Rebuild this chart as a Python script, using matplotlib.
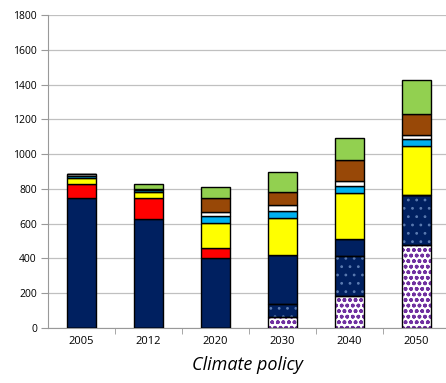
import matplotlib.pyplot as plt
import numpy as np

plt.rcParams['font.family'] = ['Open Sans', 'DejaVu Sans']

years = ['2005', '2012', '2020', '2030', '2040', '2050']

# stacked segments, bottom to top
purple_dots = [0, 0, 0, 61, 184, 477]
navy_dots = [0, 0, 0, 75, 232, 288]
navy = [746, 625, 401, 284, 94, 0]
red = [80, 121, 57, 0, 0, 0]
yellow = [36, 34, 144, 214, 265, 282]
light_blue = [10, 13, 42, 39, 42, 38]
white = [12, 0, 25, 34, 30, 25]
brown = [0, 5, 77, 73, 120, 119]
green = [0, 32, 66, 119, 127, 197]

series = [
    (purple_dots, 'white', '#7030A0', 'ooo', 1.1),
    (navy_dots, '#002060', '#5a7ab0', '..', 0.8),
    (navy, '#002060', None, None, 0),
    (red, '#FF0000', None, None, 0),
    (yellow, '#FFFF00', None, None, 0),
    (light_blue, '#00B0F0', None, None, 0),
    (white, 'white', None, None, 0),
    (brown, '#984807', None, None, 0),
    (green, '#92D050', None, None, 0),
]

fig = plt.figure(figsize=(4.46, 3.83), dpi=100)
ax = fig.add_axes([48 / 446, 55 / 383, 398 / 446, 313 / 383])

x = np.arange(len(years))
bottom = np.zeros(len(years))
for vals, fc, hc, hatch, hlw in series:
    vals = np.array(vals, dtype=float)
    if hatch:
        plt.rcParams['hatch.linewidth'] = hlw
        ax.bar(x, vals, 0.42, bottom=bottom, color=fc, edgecolor=hc,
               hatch=hatch, linewidth=0, zorder=3)
        ax.bar(x, vals, 0.42, bottom=bottom, color='none',
               edgecolor='black', linewidth=1, zorder=4)
    else:
        ax.bar(x, vals, 0.42, bottom=bottom, color=fc, edgecolor='black',
               linewidth=1, zorder=3)
    bottom += vals

ax.set_ylim(0, 1800)
ax.set_yticks(range(0, 1801, 200))
ax.set_xlim(-0.5, 5.44)
ax.set_xticks(x)
ax.set_xticklabels(years)
ax.set_xticks(np.arange(0.5, 5.5, 1), minor=True)
ax.tick_params(axis='x', which='major', length=0, pad=6, labelsize=8)
ax.tick_params(axis='x', which='minor', length=4, color='#999999')
ax.tick_params(axis='y', length=5, color='#999999', labelsize=7.5, pad=3)
ax.yaxis.grid(True, color='#c0c0c0', linewidth=0.9, zorder=0)
ax.set_axisbelow(True)
for s in ['top', 'right']:
    ax.spines[s].set_visible(False)
ax.spines['left'].set_color('#999999')
ax.spines['bottom'].set_color('#999999')
ax.set_xlabel('Climate policy', fontsize=13, style='italic', labelpad=6)

fig.savefig('out.png', dpi=100)
